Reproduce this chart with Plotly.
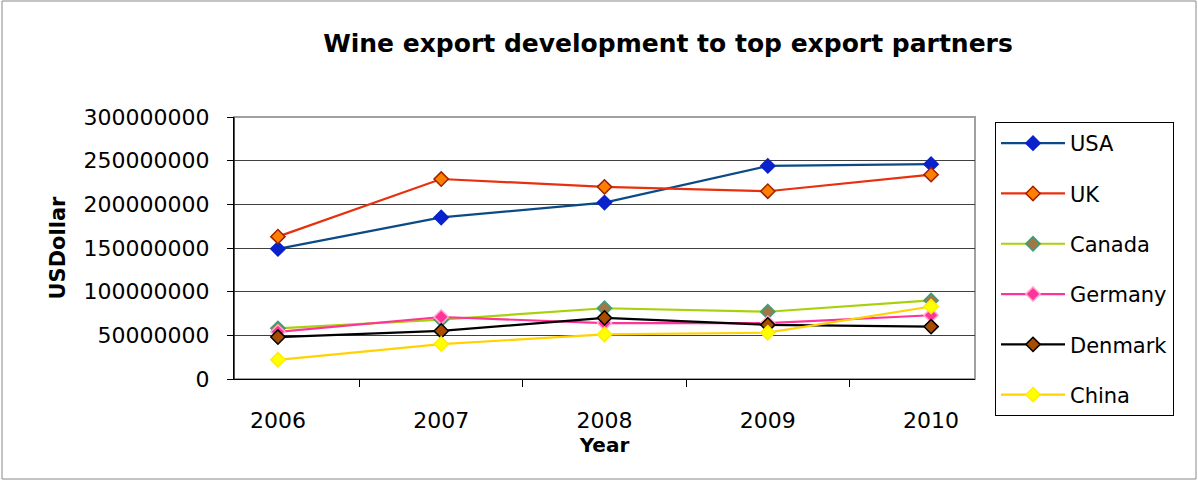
import plotly.graph_objects as go

years = ["2006", "2007", "2008", "2009", "2010"]
usa = [149e6, 185e6, 202e6, 244e6, 246e6]
uk = [163e6, 229e6, 220e6, 215e6, 234e6]
canada = [58e6, 68e6, 81e6, 77e6, 90e6]
germany = [54e6, 71e6, 64e6, 64e6, 73e6]
denmark = [48e6, 55e6, 70e6, 62e6, 60e6]
china = [22e6, 40e6, 51e6, 53e6, 83e6]
y_ticks = [0, 50e6, 100e6, 150e6, 200e6, 250e6, 300e6]
y_tick_labels = ["0", "50000000", "100000000", "150000000", "200000000", "250000000", "300000000"]

series = [
    ("USA", usa, "#0B4A86", "#0A22CC", "#0A22CC"),
    ("UK", uk, "#E8300E", "#FF7F00", "#A02000"),
    ("Canada", canada, "#A8D10C", "#A07848", "#3AA07C"),
    ("Germany", germany, "#FF3399", "#FF3399", "#FFAAD0"),
    ("Denmark", denmark, "#000000", "#A84C00", "#000000"),
    ("China", china, "#FFD200", "#FFFF00", "#FFEE00"),
]

W, H = 1198, 481
L, R, T, B = 234, 975, 117, 379
FONT = "DejaVu Sans, Liberation Sans, Arial, sans-serif"

fig = go.Figure()
for i, (name, vals, lc, mf, ml) in enumerate(series):
    fig.add_trace(go.Scatter(
        x=years, y=vals, name=name, mode="lines+markers",
        line=dict(color=lc, width=2.2),
        marker=dict(symbol="diamond", size=11, color=mf, line=dict(color=ml, width=1.5)),
        legendgroup=name,
    ))

def px(x):
    return (x - L) / (R - L)
def py(y):
    return (B - y) / (B - T)

fig.update_layout(
    width=W, height=H,
    margin=dict(l=L, r=W - R, t=T, b=H - B),
    paper_bgcolor="white", plot_bgcolor="white",
    font=dict(family=FONT, size=22, color="black"),
    title=dict(text="<b>Wine export development to top export partners</b>",
               x=668 / W, xanchor="center", y=1 - 43 / H, yanchor="middle",
               font=dict(size=25, color="black")),
    showlegend=True,
    legend=dict(x=px(995), xanchor="left", y=py(122), yanchor="top",
                bordercolor="black", borderwidth=1, bgcolor="white",
                font=dict(size=21), tracegroupgap=20, itemwidth=64,
                traceorder="grouped", maxheight=420),
    xaxis=dict(type="category", showgrid=False, showline=True, linecolor="black", linewidth=1,
               ticks="outside", tickson="boundaries", ticklen=7, tickcolor="black",
               ticklabelstandoff=22, zeroline=False,
               title=dict(text="<b>Year</b>", font=dict(size=20), standoff=0)),
    yaxis=dict(range=[0, 300e6], tickvals=y_ticks, ticktext=y_tick_labels,
               showgrid=True, gridcolor="#404040", gridwidth=1,
               showline=True, linecolor="black", linewidth=1,
               ticks="outside", ticklen=6, tickcolor="black", ticklabelstandoff=13,
               zeroline=False,
               title=dict(text="<b>USDollar</b>", font=dict(size=21), standoff=12)),
    shapes=[
        dict(type="rect", xref="paper", yref="paper", x0=0, x1=1, y0=0, y1=1,
             line=dict(color="#A0A0A0", width=2), layer="below"),
        dict(type="line", xref="paper", yref="paper", x0=0, x1=0, y0=0, y1=1,
             line=dict(color="black", width=1)),
        dict(type="rect", xref="paper", yref="paper",
             x0=px(2), x1=px(1196), y0=py(479), y1=py(1),
             line=dict(color="#888888", width=1)),
    ],
)

fig.write_html("out.html", config={"displayModeBar": False},
               post_script="document.body.style.margin='0px';document.body.style.overflow='hidden';")
